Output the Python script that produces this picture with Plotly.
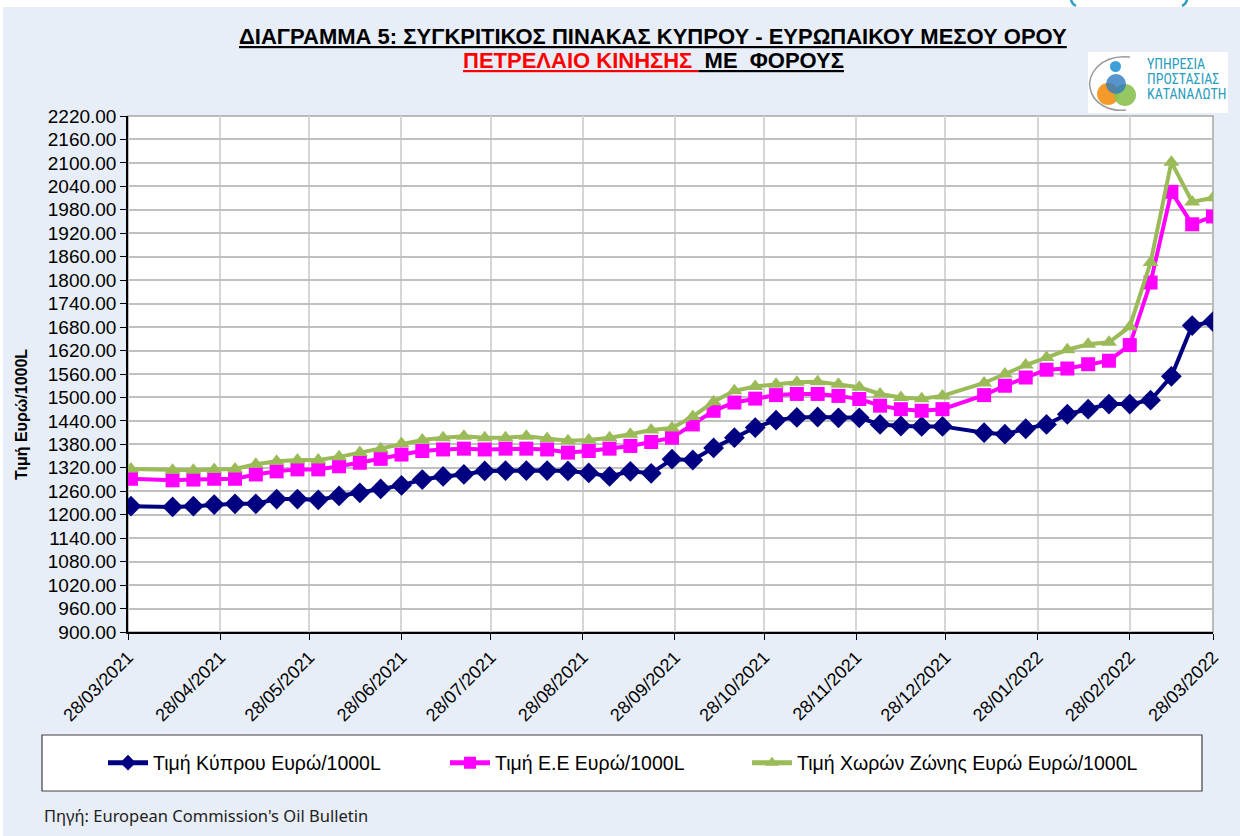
import plotly.graph_objects as go

# weekly Oil Bulletin dates (gaps at Easter and over the new year)
dates = [
    "2021-03-29", "2021-04-12", "2021-04-19", "2021-04-26", "2021-05-03", "2021-05-10",
    "2021-05-17", "2021-05-24", "2021-05-31", "2021-06-07", "2021-06-14", "2021-06-21",
    "2021-06-28", "2021-07-05", "2021-07-12", "2021-07-19", "2021-07-26", "2021-08-02",
    "2021-08-09", "2021-08-16", "2021-08-23", "2021-08-30", "2021-09-06", "2021-09-13",
    "2021-09-20", "2021-09-27", "2021-10-04", "2021-10-11", "2021-10-18", "2021-10-25",
    "2021-11-01", "2021-11-08", "2021-11-15", "2021-11-22", "2021-11-29", "2021-12-06",
    "2021-12-13", "2021-12-20", "2021-12-27", "2022-01-10", "2022-01-17", "2022-01-24",
    "2022-01-31", "2022-02-07", "2022-02-14", "2022-02-21", "2022-02-28", "2022-03-07",
    "2022-03-14", "2022-03-21", "2022-03-28",
]

cyprus = [1222, 1220, 1222, 1226, 1228, 1228, 1240, 1240, 1238, 1248, 1256, 1266, 1275,
          1290, 1298, 1303, 1312, 1313, 1313, 1313, 1312, 1307, 1298, 1311, 1306, 1342,
          1340, 1371, 1397, 1423, 1442, 1449, 1450, 1448, 1448, 1431, 1427, 1426, 1426,
          1410, 1406, 1420, 1431, 1457, 1470, 1483, 1483, 1493, 1554, 1684, 1694]

eu = [1292, 1288, 1290, 1292, 1292, 1303, 1311, 1316, 1316, 1324, 1333, 1343, 1354,
      1363, 1367, 1369, 1367, 1369, 1369, 1367, 1359, 1363, 1369, 1376, 1386, 1397,
      1431, 1466, 1487, 1497, 1506, 1509, 1509, 1504, 1496, 1479, 1470, 1466, 1470,
      1506, 1530, 1551, 1571, 1574, 1585, 1594, 1634, 1794, 2026, 1943, 1963]

eurozone = [1317, 1314, 1314, 1316, 1317, 1329, 1337, 1340, 1340, 1348, 1359, 1369, 1382,
            1391, 1397, 1401, 1397, 1397, 1401, 1395, 1389, 1391, 1397, 1406, 1417, 1422,
            1451, 1489, 1517, 1528, 1534, 1539, 1540, 1534, 1526, 1509, 1500, 1497, 1504,
            1537, 1560, 1583, 1602, 1622, 1636, 1641, 1681, 1845, 2102, 2000, 2011]

tick_dates = ["2021-03-28", "2021-04-28", "2021-05-28", "2021-06-28", "2021-07-28",
              "2021-08-28", "2021-09-28", "2021-10-28", "2021-11-28", "2021-12-28",
              "2022-01-28", "2022-02-28", "2022-03-28"]

names = ["Τιμή Κύπρου Ευρώ/1000L", "Τιμή Ε.Ε Ευρώ/1000L", "Τιμή Χωρών Ζώνης Ευρώ Ευρώ/1000L"]

W, H = 1240, 836
L, R, T, B = 128, 1213, 116, 632  # plot area in pixels


def px(x):
    return (x - L) / (R - L)


def py(y):
    return (B - y) / (B - T)


FONT = "Arial, Liberation Sans, sans-serif"
NARROW = "Liberation Sans Narrow, Arial Narrow, Roboto Condensed, Arial, sans-serif"
TEAL = "#2A9DC0"

fig = go.Figure()
fig.add_trace(go.Scatter(x=dates, y=cyprus, name=names[0], mode="lines+markers", legend="legend",
                         line=dict(color="#000080", width=4),
                         marker=dict(symbol="diamond", size=16, color="#000080")))
fig.add_trace(go.Scatter(x=dates, y=eu, name=names[1], mode="lines+markers", legend="legend2",
                         line=dict(color="#FF00FF", width=4),
                         marker=dict(symbol="square", size=14, color="#FF00FF")))
fig.add_trace(go.Scatter(x=dates, y=eurozone, name=names[2], mode="lines+markers", legend="legend3",
                         line=dict(color="#9BBB59", width=4),
                         marker=dict(symbol="triangle-up", size=14, color="#9BBB59")))

shapes = [
    # white strips at the top and left of the page
    dict(type="rect", xref="paper", yref="paper", x0=px(0), x1=px(W), y0=py(7), y1=py(0),
         fillcolor="white", line_width=0, layer="below"),
    dict(type="rect", xref="paper", yref="paper", x0=px(0), x1=px(3), y0=py(H), y1=py(0),
         fillcolor="white", line_width=0, layer="below"),
    # bits of the heading above the page edge
    dict(type="path", xref="paper", yref="paper",
         path=f"M{px(1071)},{py(0)} Q{px(1072)},{py(4)} {px(1076)},{py(6)}",
         line=dict(color=TEAL, width=2.5), layer="above"),
    dict(type="path", xref="paper", yref="paper",
         path=f"M{px(1187)},{py(0)} Q{px(1186)},{py(4)} {px(1182)},{py(6)}",
         line=dict(color=TEAL, width=2.5), layer="above"),
    # plot area frame
    dict(type="rect", xref="paper", yref="paper", x0=0, x1=1, y0=0, y1=1,
         line=dict(color="#A6A6A6", width=1.5), layer="below"),
    # legend box
    dict(type="rect", xref="paper", yref="paper", x0=px(42), x1=px(1202), y0=py(791), y1=py(735),
         fillcolor="white", line=dict(color="#404040", width=1.2), layer="above"),
    # logo
    dict(type="rect", xref="paper", yref="paper", x0=px(1088), x1=px(1228), y0=py(113), y1=py(52),
         fillcolor="white", line_width=0, layer="above"),
    dict(type="path", xref="paper", yref="paper",
         path=f"M{px(1130)},{py(57)} C{px(1100)},{py(54)} {px(1087)},{py(75)} {px(1090)},{py(88)}"
              f" C{px(1093)},{py(104)} {px(1110)},{py(112)} {px(1126)},{py(110)}",
         line=dict(color="#9A9A9A", width=1.5), layer="above"),
    dict(type="circle", xref="paper", yref="paper", x0=px(1097), x1=px(1119), y0=py(105), y1=py(83),
         fillcolor="#F39A2B", line_width=0, layer="above"),
    dict(type="circle", xref="paper", yref="paper", x0=px(1114), x1=px(1136), y0=py(106), y1=py(84),
         fillcolor="#8CC152", line_width=0, layer="above", opacity=0.9),
    dict(type="circle", xref="paper", yref="paper", x0=px(1106), x1=px(1126), y0=py(94), y1=py(74),
         fillcolor="#2E7BBF", line_width=0, layer="above", opacity=0.8),
    dict(type="circle", xref="paper", yref="paper", x0=px(1110), x1=px(1121), y0=py(72), y1=py(61),
         fillcolor="#3BA0D8", line_width=0, layer="above"),
]

nb = "\u00a0"
annotations = [
    dict(text="<b><u>ΔΙΑΓΡΑΜΜΑ 5: ΣΥΓΚΡΙΤΙΚΟΣ ΠΙΝΑΚΑΣ ΚΥΠΡΟΥ - ΕΥΡΩΠΑΙΚΟΥ ΜΕΣΟΥ ΟΡΟΥ</u></b>",
         x=px(653), y=py(37), font=dict(size=22, color="black", family=FONT)),
    dict(text=f"<b><span style='color:#FF0000'><u>ΠΕΤΡΕΛΑΙΟ ΚΙΝΗΣΗΣ{nb}</u></span>"
              f"<u>{nb}ΜΕ{nb}{nb}ΦΟΡΟΥΣ</u></b>",
         x=px(653), y=py(60), font=dict(size=22, color="black", family=FONT)),
    dict(text="<b>Τιμή Ευρώ/1000L</b>", textangle=-90, x=px(22), y=py(415),
         font=dict(size=16, color="black", family=FONT)),
    dict(text="Πηγή: European Commission's Oil Bulletin", x=px(42), y=py(815), xanchor="left",
         font=dict(size=16.5, color="#222222", family="Noto Sans, sans-serif")),
    dict(text="ΥΠΗΡΕΣΙΑ", x=px(1145), y=py(64), xanchor="left",
         font=dict(size=14, color=TEAL, family=NARROW)),
    dict(text="ΠΡΟΣΤΑΣΙΑΣ", x=px(1145), y=py(79), xanchor="left",
         font=dict(size=14, color=TEAL, family=NARROW)),
    dict(text="ΚΑΤΑΝΑΛΩΤΗ", x=px(1145), y=py(94), xanchor="left",
         font=dict(size=14, color=TEAL, family=NARROW)),
]
for a in annotations:
    a.update(xref="paper", yref="paper", showarrow=False)
    a.setdefault("xanchor", "center")
    a.setdefault("yanchor", "middle")


def legend_at(x):
    return dict(x=px(x), xanchor="left", y=py(763), yanchor="middle",
                bgcolor="rgba(0,0,0,0)", borderwidth=0, itemwidth=40, itemsizing="constant",
                font=dict(size=19.5, family=FONT, color="black"))


fig.update_layout(
    width=W, height=H,
    margin=dict(l=L, r=W - R, t=T, b=H - B),
    paper_bgcolor="#E8EEF7",
    plot_bgcolor="white",
    font=dict(family=FONT, color="black", size=18),
    showlegend=True,
    legend=legend_at(103),
    legend2=legend_at(445),
    legend3=legend_at(747),
    xaxis=dict(
        type="date", range=["2021-03-28", "2022-03-28"],
        tickvals=tick_dates, tickformat="%d/%m/%Y", tickangle=-45,
        ticks="outside", ticklen=6, tickcolor="black", tickwidth=1.2,
        showline=True, linecolor="black", linewidth=1.5,
        showgrid=True, gridcolor="#D6D6D6", gridwidth=1.5,
        tickfont=dict(size=18), zeroline=False,
    ),
    yaxis=dict(
        range=[900, 2220], tick0=900, dtick=60, tickformat=".2f",
        ticks="outside", ticklen=6, tickcolor="black", tickwidth=1.2,
        showline=True, linecolor="black", linewidth=1.5,
        showgrid=True, gridcolor="#C0C0C0", gridwidth=1.5,
        tickfont=dict(size=19), zeroline=False,
    ),
    shapes=shapes,
    annotations=annotations,
)

fig.write_html("out.html", config={"displayModeBar": False},
               post_script="document.body.style.margin='0';")
